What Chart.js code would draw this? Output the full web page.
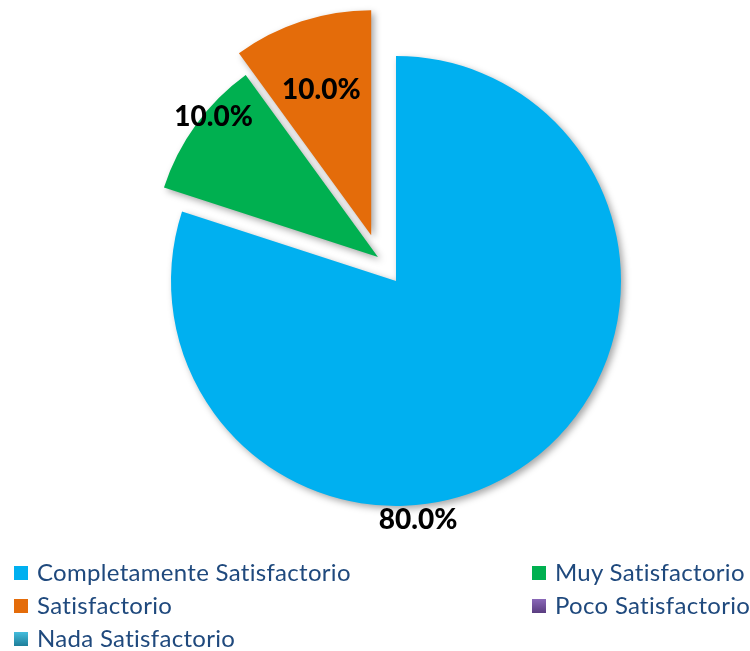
<!DOCTYPE html>
<html>
<head>
<meta charset="utf-8">
<script src="https://cdn.jsdelivr.net/npm/chart.js@4/dist/chart.umd.min.js"></script>
<style>
  html, body { margin: 0; padding: 0; background: #fff; }
  #wrap { position: relative; width: 750px; height: 651px; }
  #c { position: absolute; left: 0; top: 0; }
  .lg { position: absolute; font-family: Lato, "Liberation Sans", sans-serif; font-size: 24px; letter-spacing: 0.3px; color: #1F497D; white-space: nowrap; line-height: 1; }
  .lg .sw { position: absolute; width: 14px; height: 14px; }
  .lg .tx { position: absolute; }
</style>
</head>
<body>
<div id="wrap">
  <canvas id="c" width="750" height="651"></canvas>
</div>
<script>
// ---- data ----
const categories = ["Completamente Satisfactorio", "Muy Satisfactorio", "Satisfactorio", "Poco Satisfactorio", "Nada Satisfactorio"];
const values = [80, 10, 10, 0, 0];
const sliceColors = ["#00B0F0", "#00B050", "#E46C0A", "#7153A0", "#2FA3C2"];

// ---- style config ----
const explodeDist = [0, 30, 52, 0, 0];          // px
const explodeAngle = [0, 323, 331.5, 0, 0];     // degrees clockwise from 12 o'clock
const labelAngles = [174.7, 312.1, 338.8, 0, 0];
const labelRadii = [1.064, 1.093, 0.917, 1, 1];
const legendSwatch = [null, null, null,
  "linear-gradient(#8A68B8, #5A3D80)", "linear-gradient(#44BDDD, #1E7E99)"];

const explodePlugin = {
  id: 'explode',
  afterDatasetUpdate(chart, args) {
    const meta = chart.getDatasetMeta(args.index);
    meta.data.forEach((arc, i) => {
      const d = explodeDist[i] || 0;
      if (!d) return;
      const a = explodeAngle[i] * Math.PI / 180;
      arc.x += Math.sin(a) * d;
      arc.y -= Math.cos(a) * d;
    });
  }
};

const labelPlugin = {
  id: 'pctLabels',
  beforeDatasetsDraw(chart) {
    const ctx = chart.ctx;
    ctx.save();
    ctx.shadowColor = 'rgba(0,0,0,0.35)';
    ctx.shadowBlur = 7;
    ctx.shadowOffsetX = 3;
    ctx.shadowOffsetY = 3;
  },
  afterDatasetsDraw(chart) {
    const ctx = chart.ctx;
    ctx.restore();
    const meta = chart.getDatasetMeta(0);
    const data = chart.data.datasets[0].data;
    const total = data.reduce((a, b) => a + b, 0);
    const ca = chart.chartArea;
    const cx = (ca.left + ca.right) / 2;
    const cy = (ca.top + ca.bottom) / 2;
    const R = meta.controller.outerRadius;
    ctx.save();
    ctx.font = '900 28px Lato, "Liberation Sans", sans-serif';
    ctx.fillStyle = '#000';
    ctx.textAlign = 'center';
    ctx.textBaseline = 'alphabetic';
    meta.data.forEach((arc, i) => {
      if (!data[i]) return;
      const a = labelAngles[i] * Math.PI / 180;
      const r = R * labelRadii[i];
      const x = cx + Math.sin(a) * r;
      const y = cy - Math.cos(a) * r;
      const txt = (data[i] / total * 100).toFixed(1) + '%';
      ctx.fillText(txt, x, y + 28 * 0.36);
    });
    ctx.restore();
  }
};

new Chart(document.getElementById('c'), {
  type: 'pie',
  data: {
    labels: categories,
    datasets: [{
      data: values,
      backgroundColor: sliceColors,
      borderWidth: 0
    }]
  },
  options: {
    responsive: false,
    animation: false,
    radius: 225,
    layout: { padding: { left: 42, right: 0, top: 0, bottom: 89 } },
    plugins: {
      legend: { display: false },
      tooltip: { enabled: false }
    }
  },
  plugins: [explodePlugin, labelPlugin]
});

// ---- HTML legend ----
const legendPos = [[14, 566], [532, 566], [14, 599], [532, 599], [14, 632]];
const wrap = document.getElementById('wrap');
categories.forEach((name, i) => {
  const d = document.createElement('div');
  d.className = 'lg';
  d.style.left = legendPos[i][0] + 'px';
  d.style.top = legendPos[i][1] + 'px';
  const sw = document.createElement('span');
  sw.className = 'sw';
  sw.style.left = '0px';
  sw.style.top = '0px';
  sw.style.background = legendSwatch[i] || sliceColors[i];
  const tx = document.createElement('span');
  tx.className = 'tx';
  tx.style.left = '23px';
  tx.style.top = '-6px';
  tx.textContent = name;
  d.appendChild(sw);
  d.appendChild(tx);
  wrap.appendChild(d);
});
</script>
</body>
</html>
